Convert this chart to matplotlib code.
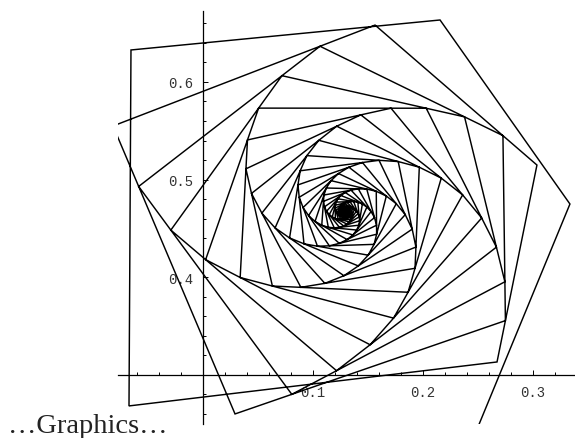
import numpy as np
import matplotlib.pyplot as plt

# opening stretch of the path (drawn as is)
lead_x = [0.2436, 0.3336, 0.2155, -0.0655, -0.0673]
lead_y = [0.2294, 0.4750, 0.6634, 0.6327, 0.2683]
# five seed points; every later point sits a fixed fraction of the way
# along the segment drawn five steps earlier
seed_x = [0.2673, 0.3036, 0.1564, -0.0818, 0.0291]
seed_y = [0.3133, 0.5149, 0.6582, 0.5549, 0.2601]
frac = 0.21
n_points = 220

x_ticks = [0.1, 0.2, 0.3]
y_ticks = [0.4, 0.5, 0.6]

px = list(seed_x)
py = list(seed_y)
for k in range(n_points):
    px.append(px[k] + frac * (px[k + 1] - px[k]))
    py.append(py[k] + frac * (py[k + 1] - py[k]))
path_x = lead_x + px
path_y = lead_y + py

fig = plt.figure(figsize=(5.75, 4.39), dpi=100)
ax = fig.add_axes([118/575, 14/439, 457/575, 413/439])
ax.set_xlim(-0.0773, 0.3382)
ax.set_ylim(0.2498, 0.6726)

ax.plot(path_x, path_y, color='black', lw=1.05, solid_joinstyle='miter')
ax.plot(px[-1], py[-1], 'o', color='black', ms=5.5)

for s in ['top', 'right']:
    ax.spines[s].set_visible(False)
ax.spines['left'].set_position(('data', 0))
ax.spines['bottom'].set_position(('data', 0.3))
for s in ['left', 'bottom']:
    ax.spines[s].set_linewidth(0.9)
ax.set_xticks(x_ticks)
ax.set_yticks(y_ticks)
ax.set_xticklabels(['%.1f' % v for v in x_ticks])
ax.set_yticklabels(['%.1f' % v for v in y_ticks])
ax.set_xticks(np.arange(-0.06, 0.34, 0.02), minor=True)
ax.set_yticks(np.arange(0.26, 0.67, 0.02), minor=True)
ax.tick_params(which='both', direction='in', width=0.7, pad=7,
               labelsize=10, labelcolor='#333333')
ax.tick_params(which='major', length=3.6)
ax.tick_params(which='minor', length=2.4)
for lab in ax.get_xticklabels() + ax.get_yticklabels():
    lab.set_family('Liberation Mono')

fig.text(8/575, 1 - 433/439, '\u2026Graphics\u2026',
         family='Liberation Serif', size=20.5, color='#222222')
fig.savefig('out.png')
